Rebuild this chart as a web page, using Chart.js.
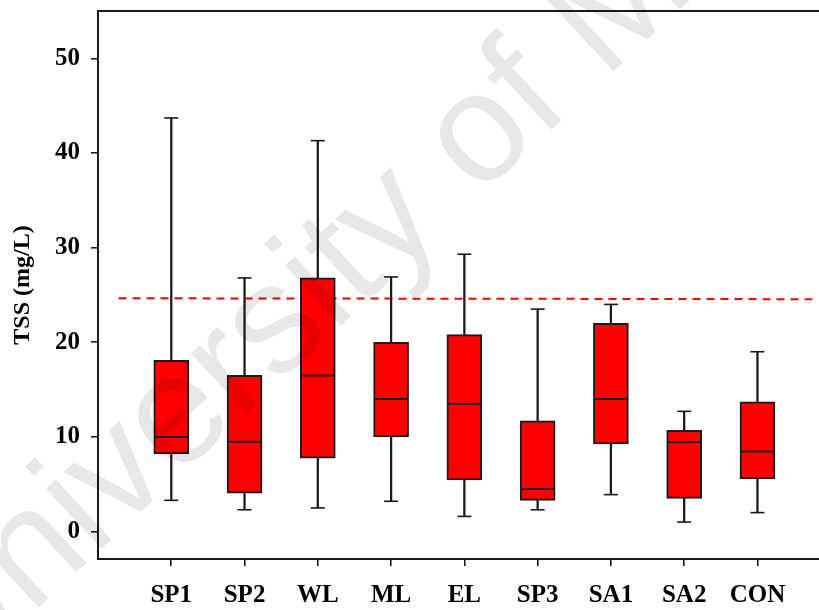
<!DOCTYPE html>
<html>
<head>
<meta charset="utf-8">
<script src="https://cdn.jsdelivr.net/npm/chart.js@4"></script>
<style>
  html, body { margin: 0; padding: 0; background: #fff; overflow: hidden; }
</style>
</head>
<body>
<canvas id="tssChart" width="819" height="610"></canvas>
<script>
// box plot values (mg/L)
const sites = ["SP1", "SP2", "WL", "ML", "EL", "SP3", "SA1", "SA2", "CON"];
const whiskerLow = [3.3, 2.3, 2.5, 3.2, 1.6, 2.3, 3.9, 1.0, 2.0];
const q1 = [8.2, 4.05, 7.75, 10.0, 5.45, 3.3, 9.25, 3.5, 5.6];
const median = [10.0, 9.5, 16.5, 14.0, 13.5, 4.5, 14.0, 9.45, 8.45];
const q3 = [18.1, 16.5, 26.8, 20.0, 20.8, 11.7, 22.0, 10.7, 13.7];
const whiskerHigh = [43.7, 26.8, 41.3, 26.9, 29.3, 23.5, 24.0, 12.7, 19.0];
const yTicks = [0, 10, 20, 30, 40, 50];
// dashed guideline (x in category units, SP1 = 1)
const guideline = [{ x: 0.28, y: 24.65 }, { x: 9.75, y: 24.55 }];

const serif = "'Liberation Serif', 'Times New Roman', serif";
const ink = "#1a1a1a";

const frameTop = {
  id: "frameTop",
  afterDraw(chart) {
    const { ctx, chartArea } = chart;
    ctx.save();
    ctx.strokeStyle = ink;
    ctx.lineWidth = 2;
    ctx.beginPath();
    ctx.moveTo(chartArea.left, chartArea.top);
    ctx.lineTo(chartArea.right, chartArea.top);
    ctx.stroke();
    ctx.restore();
  }
};

const watermark = {
  id: "watermark",
  afterDraw(chart) {
    const ctx = chart.ctx;
    ctx.save();
    ctx.translate(-51, 691);
    ctx.rotate(-43 * Math.PI / 180);
    ctx.font = "155px 'Liberation Sans'";
    ctx.fillStyle = "rgba(0,0,0,0.095)";
    ctx.fillText("University of Malaya", 0, 0);
    ctx.restore();
  }
};

const noPad = (scale) => {
  scale.paddingTop = 0;
  scale.paddingBottom = 0;
  scale.paddingLeft = 0;
  scale.paddingRight = 0;
};

const caps = sites.map((s, i) => ({ x: i + 1, y: whiskerLow[i] }))
  .concat(sites.map((s, i) => ({ x: i + 1, y: whiskerHigh[i] })));

new Chart(document.getElementById("tssChart"), {
  type: "bar",
  data: {
    datasets: [
      {
        type: "line",
        label: "guideline",
        data: guideline,
        borderColor: "#ff0000",
        borderWidth: 2,
        borderDash: [8, 6],
        pointRadius: 0,
        order: 5,
      },
      {
        type: "bar",
        label: "whiskers",
        data: sites.map((s, i) => ({ x: i + 1, y: [whiskerLow[i], whiskerHigh[i]] })),
        backgroundColor: ink,
        barThickness: 1.6,
        grouped: false,
        order: 4,
      },
      {
        type: "bar",
        label: "boxes",
        data: sites.map((s, i) => ({ x: i + 1, y: [q1[i], q3[i]] })),
        backgroundColor: "#ff0000",
        borderColor: ink,
        borderWidth: 2,
        borderSkipped: false,
        barThickness: 35,
        grouped: false,
        order: 3,
      },
      {
        type: "scatter",
        label: "median",
        data: sites.map((s, i) => ({ x: i + 1, y: median[i] })),
        pointStyle: "line",
        pointRadius: 17,
        pointBorderColor: ink,
        pointBorderWidth: 2,
        order: 2,
      },
      {
        type: "scatter",
        label: "caps",
        data: caps,
        pointStyle: "line",
        pointRadius: 7,
        pointBorderColor: ink,
        pointBorderWidth: 1.6,
        order: 1,
      },
    ],
  },
  options: {
    responsive: false,
    animation: false,
    layout: { autoPadding: false, padding: { top: 11, right: 0, bottom: 0, left: 0 } },
    plugins: { legend: { display: false }, tooltip: { enabled: false } },
    scales: {
      x: {
        type: "linear",
        min: 0,
        max: 9.84,
        offset: false,
        afterBuildTicks: (scale) => {
          scale.ticks = sites.map((s, i) => ({ value: i + 1 }));
        },
        afterFit: (scale) => { scale.height = 51; noPad(scale); },
        ticks: {
          callback: (v) => sites[v - 1] || "",
          font: { family: serif, size: 25, weight: "bold" },
          color: "#000",
          padding: 15,
          maxRotation: 0,
          autoSkip: false,
        },
        grid: { offset: false, drawOnChartArea: false, drawTicks: true, tickLength: 7, color: ink, lineWidth: 1.6 },
        border: { display: true, color: ink, width: 2 },
      },
      y: {
        min: -2.9,
        max: 55,
        afterBuildTicks: (scale) => {
          scale.ticks = yTicks.map((v) => ({ value: v }));
        },
        afterFit: (scale) => { scale.width = 98; noPad(scale); },
        ticks: {
          font: { family: serif, size: 25, weight: "bold" },
          color: "#000",
          padding: 11,
        },
        grid: { drawOnChartArea: false, drawTicks: true, tickLength: 7, color: ink, lineWidth: 1.6 },
        border: { display: true, color: ink, width: 2 },
        title: {
          display: true,
          text: "TSS (mg/L)",
          font: { family: serif, size: 24, weight: "bold" },
          color: "#000",
          padding: { top: 8, bottom: 0 },
        },
      },
    },
  },
  plugins: [frameTop, watermark],
});
</script>
</body>
</html>
